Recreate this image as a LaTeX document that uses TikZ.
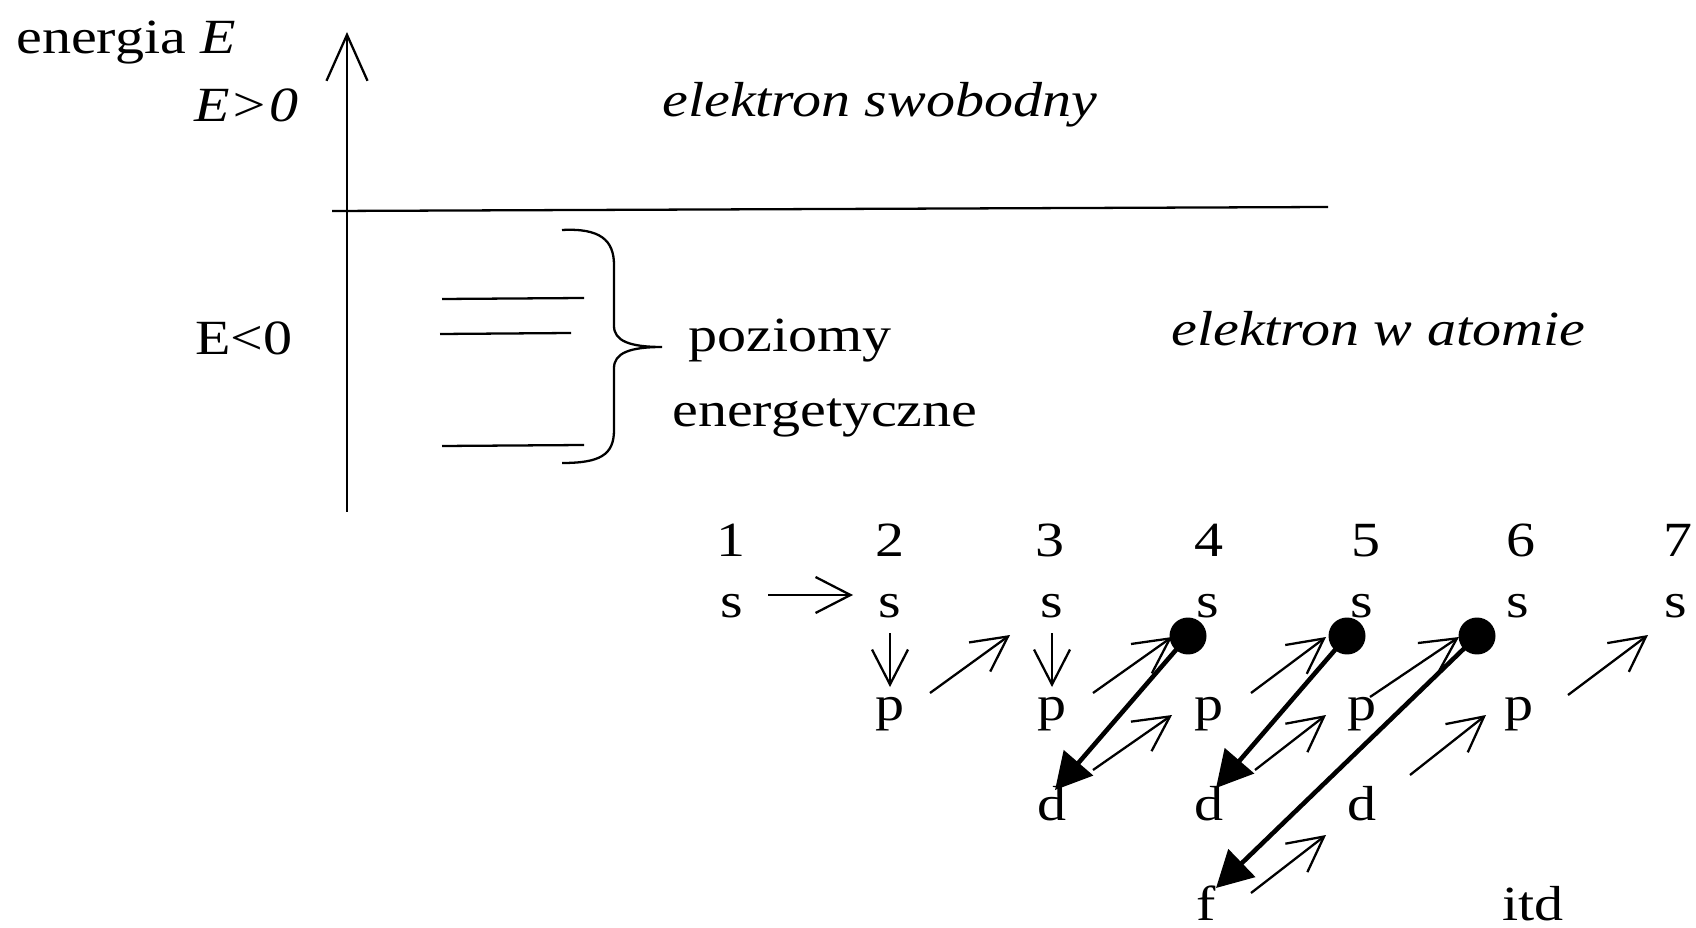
\documentclass[tikz,border=0pt]{standalone}
\usepackage{fontspec}
\setmainfont{Liberation Serif}[FakeStretch=1.18]
\usetikzlibrary{arrows.meta}
\tikzset{
  txt/.style={font=\fontsize{28}{32}\selectfont, inner sep=0pt},
  lbl/.style={txt, anchor=base west},
  orb/.style={txt, anchor=base},
  axisline/.style={line width=1.3pt},
  barbarrow/.style={line width=1.3pt, -{Straight Barb[length=0.7cm,width=0.72cm]}},
  fatarrow/.style={line width=2.6pt, -{Triangle[length=0.72cm,width=0.76cm]}},
  orbdot/.style={circle, fill=black, minimum size=0.74cm, inner sep=0pt},
}
\begin{document}
\begin{tikzpicture}[x=0.02cm, y=-0.02cm]
\fill[white] (0,0) rectangle (1696,928);
\useasboundingbox (0,0) rectangle (1696,928);

% axis
\coordinate (axbot) at (347,512);
\coordinate (axtop) at (347,32);
\draw[axisline, -{Straight Barb[length=0.92cm,width=0.82cm]}] (axbot) -- (axtop);
\coordinate (hl) at (332,211);
\coordinate (hr) at (1328,207);
\draw[axisline] (hl) -- (hr);

% texts upper part
\node[lbl] (en) at (16,54) {energia \textit{E}};
\node[lbl] (gt) at (194,122) {\textit{E>0}};
\node[lbl] (lt) at (195,355) {E<0};
\node[lbl] (free) at (662,117) {\textit{elektron swobodny}};
\node[lbl] (poz) at (688,352) {poziomy};
\node[lbl] (ene) at (672,427) {energetyczne};
\node[lbl] (atom) at (1171,346) {\textit{elektron w atomie}};

% energy levels
\coordinate (l1a) at (442,299); \coordinate (l1b) at (584,298);
\coordinate (l2a) at (440,334); \coordinate (l2b) at (571,333);
\coordinate (l3a) at (442,446); \coordinate (l3b) at (584,445);
\draw[axisline] (l1a) -- (l1b);
\draw[axisline] (l2a) -- (l2b);
\draw[axisline] (l3a) -- (l3b);

% brace
\draw[line width=1.3pt] (562,230) .. controls (600,228) and (614,240) .. (614,265)
  -- (614,326) .. controls (614,341) and (630,347) .. (662,347)
  .. controls (630,347) and (614,353) .. (614,368)
  -- (614,430) .. controls (614,455) and (600,463) .. (562,463);

% numbers
\node[orb] (n1) at (731,557) {1};
\node[orb] (n2) at (890,557) {2};
\node[orb] (n3) at (1050,557) {3};
\node[orb] (n4) at (1209,557) {4};
\node[orb] (n5) at (1366,557) {5};
\node[orb] (n6) at (1521,557) {6};
\node[orb] (n7) at (1678,557) {7};
% s row
\node[orb] (s1) at (732,617) {s};
\node[orb] (s2) at (890,617) {s};
\node[orb] (s3) at (1052,617) {s};
\node[orb] (s4) at (1208,617) {s};
\node[orb] (s5) at (1362,617) {s};
\node[orb] (s6) at (1518,617) {s};
\node[orb] (s7) at (1676,617) {s};
% p row
\node[orb] (p2) at (890,720) {p};
\node[orb] (p3) at (1052,720) {p};
\node[orb] (p4) at (1209,720) {p};
\node[orb] (p5) at (1362,720) {p};
\node[orb] (p6) at (1519,720) {p};
% d row
\node[orb] (d3) at (1052,820) {d};
\node[orb] (d4) at (1209,820) {d};
\node[orb] (d5) at (1362,820) {d};
% f row
\node[orb] (f4) at (1206,920) {f};
\node[orb] (itd) at (1533,920) {itd};

% thin arrows
\coordinate (a1s) at (768,595);  \coordinate (a1e) at (853,595);
\coordinate (a2s) at (890,633);  \coordinate (a2e) at (890,687);
\coordinate (a3s) at (930,693);  \coordinate (a3e) at (1010,635);
\coordinate (a4s) at (1052,633); \coordinate (a4e) at (1052,687);
\coordinate (a5s) at (1093,693); \coordinate (a5e) at (1172,637);
\coordinate (a6s) at (1093,770); \coordinate (a6e) at (1172,715);
\coordinate (a7s) at (1251,693); \coordinate (a7e) at (1326,637);
\coordinate (a8s) at (1255,770); \coordinate (a8e) at (1326,715);
\coordinate (a9s) at (1370,697); \coordinate (a9e) at (1459,637);
\coordinate (a10s) at (1410,775); \coordinate (a10e) at (1486,715);
\coordinate (a11s) at (1251,893); \coordinate (a11e) at (1326,835);
\coordinate (a12s) at (1568,695); \coordinate (a12e) at (1648,635);
\foreach \i in {1,...,12} {\draw[barbarrow] (a\i s) -- (a\i e);}

% dots and thick arrows
\node[orbdot] (dot4) at (1188,636) {};
\node[orbdot] (dot5) at (1347,636) {};
\node[orbdot] (dot6) at (1477,636) {};
\coordinate (t4) at (1055,790);
\coordinate (t5) at (1216,788);
\coordinate (t6) at (1216,888);
\draw[fatarrow] (dot4.center) -- (t4);
\draw[fatarrow] (dot5.center) -- (t5);
\draw[fatarrow] (dot6.center) -- (t6);
\end{tikzpicture}
\end{document}
